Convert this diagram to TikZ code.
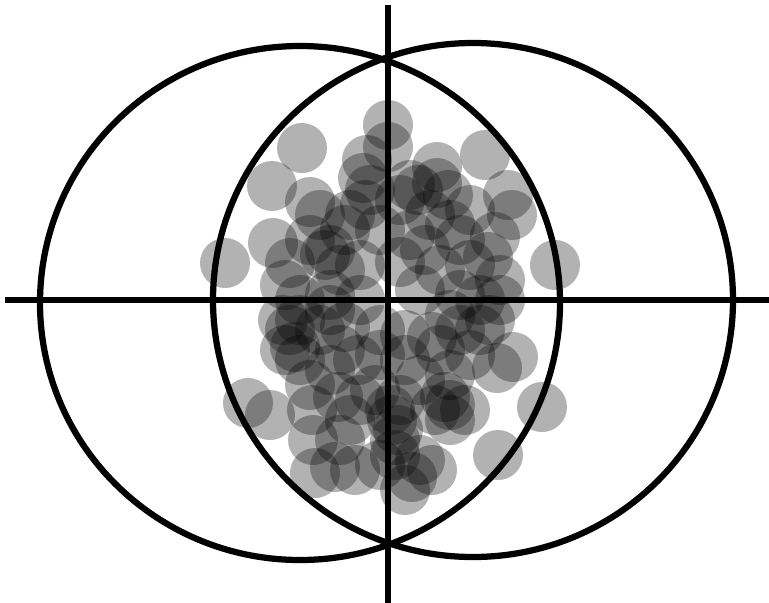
\documentclass[tikz,border=0pt]{standalone}
\begin{document}
\begin{tikzpicture}[x=0.02cm,y=-0.02cm,
  ring/.style={draw=black,line width=0.125cm},
  axis/.style={draw=black,line width=0.125cm},
  dot/.style={fill=black,fill opacity=0.3}]
\useasboundingbox (0,0) rectangle (769,603);
\foreach \x/\y in {388/125,388/147,302/148,367/160,363/178,437/167,437/183,485/155,448/195,418/190,
272/186,310/202,320/215,508/195,512/215,365/205,400/200,345/230,380/230,410/235,450/225,495/237,
488/257,273/243,225/263,555/265,310/240,325/255,290/263,285/285,340/270,360/265,400/262,425/250,
440/270,470/265,500/280,330/295,360/300,420/290,460/295,500/300,300/300,
283/320,295/347,285/350,320/330,345/327,358/360,380/330,405/335,405/360,432/337,460/330,490/320,
513/357,497/368,470/355,450/375,330/370,310/385,338/397,312/410,248/403,270/415,360/400,392/420,
398/430,435/410,445/397,465/410,542/407,313/440,340/440,375/390,395/455,420/460,315/473,335/467,
355/470,412/477,432/470,405/490,498/455,380/465,
330/250,350/215,430/215,460/240,480/300,300/320,340/350,380/355,420/380,440/350,480/330,300/360,
350/420,400/400,450/420,395/440,390/410,330/310,450/315,370/190,470/210,290/330,450/405,410/185}
  \fill[dot] (\x,\y) circle (25);
\draw[ring] (300,303) ellipse [x radius=260, y radius=257];
\draw[ring] (473,300) ellipse [x radius=260, y radius=257];
\coordinate (hl) at (5,300);
\coordinate (hr) at (769,300);
\coordinate (vt) at (388,5);
\coordinate (vb) at (388,603);
\draw[axis] (hl) -- (hr);
\draw[axis] (vt) -- (vb);
\end{tikzpicture}
\end{document}
